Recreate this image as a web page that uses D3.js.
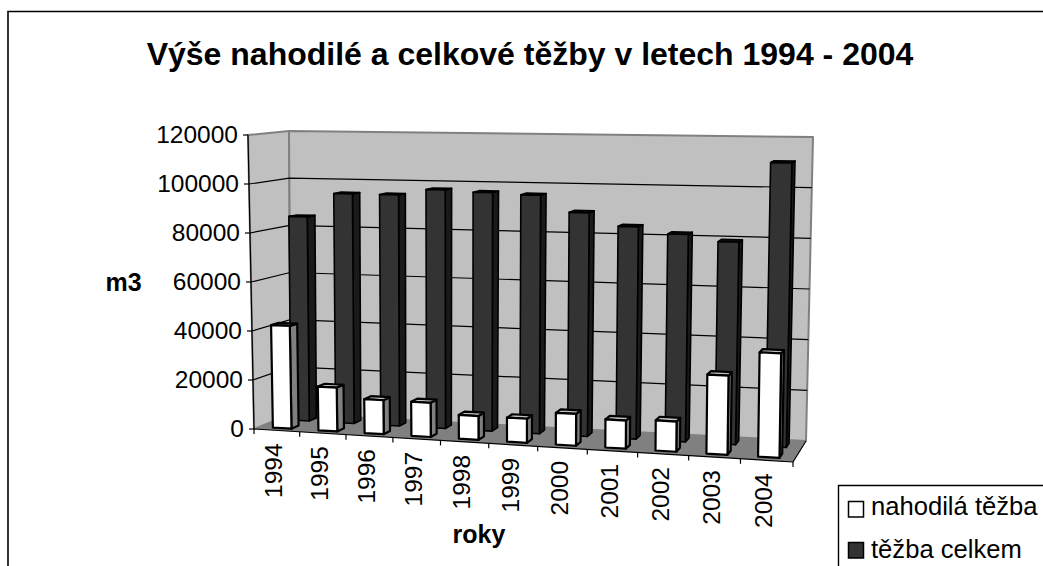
<!DOCTYPE html>
<html><head><meta charset="utf-8">
<script src="https://cdnjs.cloudflare.com/ajax/libs/d3/7.8.5/d3.min.js"></script>
<style>html,body{margin:0;padding:0;background:#fff}svg{display:block}text{font-family:"Liberation Sans",Arial,sans-serif;fill:#000}</style>
</head><body><svg id="c" width="1043" height="566"></svg>
<script>
const years = ["1994","1995","1996","1997","1998","1999","2000","2001","2002","2003","2004"];
const nahodila = [42000,17800,13700,13700,9500,9500,12500,11000,11700,30500,40000];
const celkem = [85000,95000,95000,97500,96800,96200,89600,84500,82000,79500,111000];
const yTicks = [0,20000,40000,60000,80000,100000,120000];
const titleText = "Výše nahodilé a celkové těžby v letech 1994 - 2004";
const seriesNames = ["nahodilá těžba","těžba celkem"];

const svg = d3.select("#c");
const C = {
  flb:[254,429], frb:[793,462], blb:[291,414], brb:[806,441],
  flt:[248,135], frt:[798,146], blt:[289,131], brt:[813,137]
};
const lerp=(a,b,t)=>[a[0]+(b[0]-a[0])*t,a[1]+(b[1]-a[1])*t];
const persp=1.08; // horizontal foreshortening of the 3D view
function P(u0,v,w){
  const u=u0/(u0+persp*(1-u0));
  const fb=lerp(C.flb,C.frb,u), ft=lerp(C.flt,C.frt,u), bb=lerp(C.blb,C.brb,u), bt=lerp(C.blt,C.brt,u);
  return lerp(lerp(fb,ft,v),lerp(bb,bt,v),w);
}
const xBand=d3.scaleBand().domain(years).range([0,1]);
const xBar=d3.scaleBand().domain(years).range([0,1]).paddingInner(0.59).paddingOuter(0.295);
const yS=d3.scaleLinear().domain([0,120000]).range([0,1]);
const rows={front:[0.15,0.35],back:[0.65,0.85]};
const line=d3.line();
const poly=(pts)=>line(pts)+"Z";

// outer frame
svg.append("path").attr("d",line([[8,566],[8,11.5],[1043,11.5]])).attr("fill","none").attr("stroke","#000").attr("stroke-width",1.6);

// walls and floor
const wallG=svg.append("g").attr("stroke","#808080").attr("stroke-width",2).attr("stroke-linejoin","round");
wallG.append("path").attr("d",poly([C.flb,C.flt,C.blt,C.blb])).attr("fill","#c0c0c0");
wallG.append("path").attr("d",poly([C.blb,C.blt,C.brt,C.brb])).attr("fill","#c0c0c0");
svg.append("path").attr("d",poly([C.flb,C.blb,C.brb,C.frb])).attr("fill","#808080");

// gridlines
const grid=svg.append("g").attr("fill","none").attr("stroke","#000").attr("stroke-width",1.2);
yTicks.slice(1,-1).forEach(t=>{const v=yS(t);
  grid.append("path").attr("d",line([P(0,v,0),P(0,v,1),P(1,v,1)]));
});
// axis lines
const ax=svg.append("g").attr("fill","none").attr("stroke","#000").attr("stroke-width",1.2);
ax.append("path").attr("d",line([P(0,1,0),P(0,0,0)]));
ax.append("path").attr("d",line([P(0,0,0),P(1,0,0)]));
ax.append("path").attr("d",line([P(1,0,1),P(1,0,0)]));
yTicks.forEach(t=>{const p=P(0,yS(t),0);
  ax.append("path").attr("d",line([[p[0]-5,p[1]],p]));
  svg.append("text").attr("x",p[0]-10).attr("y",p[1]+8).attr("text-anchor","end").attr("font-size",24.5).text(t);
});
years.concat(["end"]).forEach((y,i)=>{const u=i/years.length,p=P(u,0,0);
  ax.append("path").attr("d",line([p,[p[0],p[1]+5]]));
});
years.forEach((y,i)=>{const p=P(xBand(y)+xBand.bandwidth()/2,0,0);
  svg.append("text").attr("transform",`translate(${p[0]+5.5},${p[1]+13}) rotate(-90)`).attr("text-anchor","end").attr("font-size",24.5).text(y);
});

function bar(y,val,row,cols,sw){
  const u0=xBar(y),u1=u0+xBar.bandwidth(),v=yS(val),[w0,w1]=rows[row];
  const g=svg.append("g").attr("stroke","#000").attr("stroke-width",sw).attr("stroke-linejoin","round");
  g.append("path").attr("d",poly([P(u1,0,w0),P(u1,v,w0),P(u1,v,w1),P(u1,0,w1)])).attr("fill",cols[1]);
  g.append("path").attr("d",poly([P(u0,v,w0),P(u1,v,w0),P(u1,v,w1),P(u0,v,w1)])).attr("fill",cols[2]);
  g.append("path").attr("d",poly([P(u0,0,w0),P(u0,v,w0),P(u1,v,w0),P(u1,0,w0)])).attr("fill",cols[0]);
}
years.forEach((y,i)=>bar(y,celkem[i],"back",["#333333","#1a1a1a","#0d0d0d"],1.6));
years.forEach((y,i)=>bar(y,nahodila[i],"front",["#ffffff","#808080","#c0c0c0"],2.2));

// titles
svg.append("text").attr("x",530).attr("y",65).attr("text-anchor","middle").attr("font-size",32).attr("font-weight","bold").text(titleText);
svg.append("text").attr("x",123.5).attr("y",291).attr("text-anchor","middle").attr("font-size",25).attr("font-weight","bold").text("m3");
svg.append("text").attr("x",479).attr("y",543).attr("text-anchor","middle").attr("font-size",25).attr("font-weight","bold").text("roky");

// legend
svg.append("path").attr("d",line([[838.5,566],[838.5,485.5],[1043,485.5]])).attr("fill","none").attr("stroke","#000").attr("stroke-width",1.4);
const lg=[["#ffffff",501.5,515],["#333333",542.5,558]];
seriesNames.forEach((n,i)=>{
  svg.append("rect").attr("x",848.5).attr("y",lg[i][1]).attr("width",15).attr("height",15.5).attr("fill",lg[i][0]).attr("stroke","#000").attr("stroke-width",1.5);
  svg.append("text").attr("x",871).attr("y",lg[i][2]).attr("font-size",25.6).text(n);
});
</script></body></html>
